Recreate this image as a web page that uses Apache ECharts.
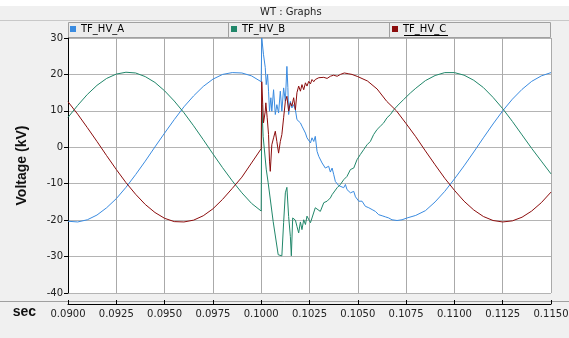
<!DOCTYPE html>
<html>
<head>
<meta charset="UTF-8">
<title>WT : Graphs</title>
<script src="https://cdn.jsdelivr.net/npm/echarts@6/dist/echarts.min.js"></script>
<style>
  html, body { margin: 0; padding: 0; background: #f0f0f0; }
</style>
</head>
<body>
<div id="main" style="width: 569px; height: 338px;"></div>
<script>
// time axis ticks (s) and voltage ticks (kV)
var xTicks = [0.0900, 0.0925, 0.0950, 0.0975, 0.1000, 0.1025, 0.1050, 0.1075, 0.1100, 0.1125, 0.1150];
var yTicks = [-40, -30, -20, -10, 0, 10, 20, 30];

// steady state before the fault
var preTimes = [0.0900, 0.0905, 0.0910, 0.0915, 0.0920, 0.0925, 0.0930, 0.0935, 0.0940, 0.0945, 0.0950,
                0.0955, 0.0960, 0.0965, 0.0970, 0.0975, 0.0980, 0.0985, 0.0990, 0.0995, 0.1000];
var preA = [-20.3, -20.5, -19.9, -18.6, -16.6, -14.1, -11.0, -7.5, -3.8, 0.1, 3.9,
            7.6, 11.1, 14.1, 16.7, 18.7, 20.0, 20.5, 20.4, 19.6, 18.0];
var preB = [8.2, 11.5, 14.5, 17.0, 18.9, 20.1, 20.6, 20.4, 19.4, 17.8, 15.5,
            12.7, 9.5, 5.9, 2.1, -1.8, -5.6, -9.2, -12.5, -15.4, -17.5];
var preC = [12.5, 9.1, 5.4, 1.6, -2.3, -6.1, -9.7, -12.9, -15.7, -17.9, -19.5,
            -20.4, -20.5, -20.0, -18.8, -16.9, -14.3, -11.3, -8.2, -4.3, -0.4];

// fault transient
var trTimesA = [0.10003, 0.10012, 0.10021, 0.10026, 0.10033, 0.10038, 0.10043, 0.10050, 0.10055, 0.10064,
                0.10073, 0.10081, 0.10090, 0.10099, 0.10107, 0.10116, 0.10125, 0.10133, 0.10138, 0.10142,
                0.10151, 0.10159, 0.10168, 0.10177, 0.10185, 0.10194, 0.10203, 0.10211, 0.10220, 0.10229,
                0.10237, 0.10255, 0.10263, 0.10272, 0.10280, 0.10289, 0.10298, 0.10306, 0.10315, 0.10324,
                0.10332, 0.10341, 0.10349, 0.10358, 0.10367, 0.10375, 0.10384, 0.10393, 0.10401, 0.10410,
                0.10427, 0.10436, 0.10444, 0.10462, 0.10479, 0.10488, 0.10505, 0.10522, 0.10539, 0.10557,
                0.10574, 0.10591, 0.10608, 0.10626, 0.10643, 0.10660, 0.10677, 0.10703, 0.10729, 0.10755];
var trA = [30.0, 25.4, 21.9, 17.2, 20.0, 15.4, 9.9, 13.6, 9.9, 15.8,
           9.0, 11.7, 9.4, 15.4, 9.9, 16.3, 12.6, 22.2, 16.4, 9.0,
           12.6, 10.8, 11.7, 10.3, 7.6, 8.1, 6.7, 5.8, 5.3, 3.9,
           2.6, 1.2, 2.6, 1.6, 3.0, -1.1, -2.5, -2.0, -4.3, -3.8,
           -5.7, -6.1, -5.2, -6.8, -5.7, -7.4, -9.4, -9.1, -10.5, -10.0,
           -11.1, -10.2, -11.6, -12.5, -12.1, -13.6, -14.8, -14.8, -16.2, -16.6,
           -17.1, -17.6, -18.5, -18.8, -19.1, -19.4, -19.9, -20.1, -19.9, -19.4];

var trTimesB = [0.10003, 0.10010, 0.10026, 0.10036, 0.10062, 0.10088, 0.10107, 0.10116, 0.10125, 0.10133,
                0.10142, 0.10151, 0.10156, 0.10163, 0.10177, 0.10185, 0.10194, 0.10203, 0.10211, 0.10220,
                0.10229, 0.10237, 0.10255, 0.10280, 0.10306, 0.10324, 0.10341, 0.10358, 0.10367, 0.10375,
                0.10393, 0.10410, 0.10427, 0.10444, 0.10462, 0.10479, 0.10496, 0.10513, 0.10531, 0.10548,
                0.10565, 0.10582, 0.10600, 0.10617, 0.10634, 0.10651, 0.10669, 0.10686, 0.10703, 0.10737,
                0.10772];
var trB = [12.0, 3.0, -6.0, -9.7, -20.4, -29.5, -29.8, -20.7, -12.5, -11.0,
           -19.0, -24.5, -29.8, -19.4, -20.0, -21.7, -23.5, -20.5, -22.6, -19.9,
           -21.2, -18.9, -20.7, -16.6, -17.6, -15.2, -14.8, -13.9, -13.0, -12.5,
           -11.1, -10.2, -8.9, -8.0, -6.1, -5.7, -3.4, -2.0, -0.6, 0.7,
           1.6, 3.5, 4.9, 5.8, 6.7, 8.1, 9.0, 10.3, 11.3, 13.1,
           14.9];

var trTimesC = [0.10003, 0.10008, 0.10012, 0.10021, 0.10024, 0.10031, 0.10038, 0.10043, 0.10047, 0.10055,
                0.10064, 0.10073, 0.10081, 0.10090, 0.10099, 0.10107, 0.10116, 0.10125, 0.10133, 0.10142,
                0.10151, 0.10159, 0.10168, 0.10177, 0.10185, 0.10194, 0.10203, 0.10211, 0.10220, 0.10229,
                0.10237, 0.10246, 0.10255, 0.10263, 0.10272, 0.10280, 0.10289, 0.10298, 0.10306, 0.10324,
                0.10341, 0.10358, 0.10375, 0.10393, 0.10410, 0.10430, 0.10450, 0.10470, 0.10500, 0.10550,
                0.10600, 0.10650, 0.10700, 0.10750];
var trC = [18.0, 11.7, 6.7, 9.9, 12.2, 8.1, 3.5, -3.8, -6.6, 0.7,
           2.6, 4.4, 1.6, -1.6, 1.6, 3.5, 8.1, 12.6, 14.0, 9.9,
           12.2, 11.3, 13.6, 10.3, 15.0, 16.8, 15.4, 17.2, 15.8, 17.7,
           16.8, 18.1, 17.4, 18.6, 18.0, 18.6, 18.1, 19.1, 18.6, 19.2,
           18.9, 19.5, 19.8, 19.5, 20.0, 20.4, 20.2, 20.0, 19.4, 18.2,
           16.0, 12.6, 10.0, 6.5];

// steady state after the transient
var postTimes = [0.1080, 0.1085, 0.1090, 0.1095, 0.1100, 0.1105, 0.1110, 0.1115,
                 0.1120, 0.1125, 0.1130, 0.1135, 0.1140, 0.1145, 0.1150];
var postA = [-18.7, -17.4, -15.0, -12.1, -8.7, -5.1, -1.3, 2.6,
             6.4, 10.0, 13.2, 15.9, 18.1, 19.6, 20.5];
var postB = [16.2, 18.3, 19.7, 20.5, 20.5, 19.8, 18.4, 16.4,
             13.7, 10.6, 7.1, 3.4, -0.3, -3.8, -7.3];
var postC = [2.9, -1.0, -4.8, -8.5, -11.8, -14.8, -17.2, -19.0,
             -20.1, -20.5, -20.2, -19.2, -17.5, -15.2, -12.3];

function pairs(times, vals) {
  return times.map(function (t, i) { return [t, vals[i]]; });
}
var dataA = pairs(preTimes, preA).concat(pairs(trTimesA, trA), pairs(postTimes, postA));
var dataB = pairs(preTimes, preB).concat(pairs(trTimesB, trB), pairs(postTimes, postB));
var dataC = pairs(preTimes, preC).concat(pairs(trTimesC, trC), pairs(postTimes, postC));

var smallFont = 'DejaVu Sans';
var myChart = echarts.init(document.getElementById('main'));

function legendBox(name, left) {
  return {
    data: [name],
    left: left,
    top: 24,
    icon: 'rect',
    itemWidth: 6,
    itemHeight: 6,
    padding: 0,
    textStyle: { fontFamily: smallFont, fontSize: 10, color: '#000' }
  };
}

var option = {
  animation: false,
  backgroundColor: '#f0f0f0',
  legend: [legendBox('TF_HV_A', 70), legendBox('TF_HV_B', 231), legendBox('TF_HV_C', 392)],
  graphic: [
    { type: 'rect', shape: { x: 0, y: 0, width: 569, height: 6 }, style: { fill: '#ffffff' }, z: -1 },
    { type: 'line', shape: { x1: 0, y1: 20.5, x2: 569, y2: 20.5 }, style: { stroke: '#c8c8c8', lineWidth: 1 }, z: -1 },
    { type: 'text', left: 260, top: 7, style: { text: 'WT : Graphs', font: '10px DejaVu Sans', fill: '#222' } },
    { type: 'rect', shape: { x: 68.5, y: 22.5, width: 482, height: 15 },
      style: { fill: '#ececec', stroke: '#a0a0a0', lineWidth: 1 }, z: -1 },
    { type: 'line', shape: { x1: 228.5, y1: 22.5, x2: 228.5, y2: 37.5 }, style: { stroke: '#a0a0a0', lineWidth: 1 }, z: -1 },
    { type: 'line', shape: { x1: 389.5, y1: 22.5, x2: 389.5, y2: 37.5 }, style: { stroke: '#a0a0a0', lineWidth: 1 }, z: -1 },
    { type: 'line', shape: { x1: 404, y1: 35.5, x2: 448, y2: 35.5 }, style: { stroke: '#000', lineWidth: 1 } },
    { type: 'line', shape: { x1: 0, y1: 301.5, x2: 569, y2: 301.5 }, style: { stroke: '#a0a0a0', lineWidth: 1 }, z: -1 }
  ],
  grid: {
    left: 68, right: 18, top: 38, bottom: 45,
    outerBoundsMode: 'none',
    show: true, backgroundColor: '#ffffff', borderWidth: 0
  },
  xAxis: {
    type: 'value',
    min: xTicks[0],
    max: xTicks[xTicks.length - 1],
    interval: 0.0025,
    position: 'bottom',
    offset: 11,
    name: 'sec',
    nameLocation: 'start',
    nameGap: 32,
    nameTextStyle: { fontFamily: 'Liberation Sans', fontWeight: 'bold', fontSize: 14, color: '#111',
                     verticalAlign: 'top', padding: [1, 0, 0, 0] },
    axisLine: { show: true, onZero: false, lineStyle: { color: '#000', width: 1 } },
    axisTick: { show: true, inside: true, length: 4, lineStyle: { color: '#000' } },
    axisLabel: { fontFamily: smallFont, fontSize: 10, color: '#222', margin: 5,
                 formatter: function (v) { return v.toFixed(4); } },
    splitLine: { show: true, lineStyle: { color: '#aaaaaa', width: 1 } }
  },
  yAxis: {
    type: 'value',
    min: yTicks[0],
    max: yTicks[yTicks.length - 1],
    interval: 10,
    name: 'Voltage (kV)',
    nameLocation: 'middle',
    nameGap: 39,
    nameTextStyle: { fontFamily: 'Liberation Sans', fontWeight: 'bold', fontSize: 14, color: '#111' },
    axisLine: { show: true, onZero: false, lineStyle: { color: '#000', width: 1 } },
    axisTick: { show: true, length: 4, lineStyle: { color: '#000' } },
    axisLabel: { fontFamily: smallFont, fontSize: 10, color: '#222', margin: 5 },
    splitLine: { show: true, lineStyle: { color: '#b4b4b4', width: 1 } }
  },
  series: [
    { name: 'TF_HV_A', type: 'line', data: dataA, showSymbol: false, color: '#3a8be0',
      lineStyle: { width: 1 } },
    { name: 'TF_HV_B', type: 'line', data: dataB, showSymbol: false, color: '#21876a',
      lineStyle: { width: 1 } },
    { name: 'TF_HV_C', type: 'line', data: dataC, showSymbol: false, color: '#8c0d0d',
      lineStyle: { width: 1 } }
  ]
};

myChart.setOption(option);
</script>
</body>
</html>
